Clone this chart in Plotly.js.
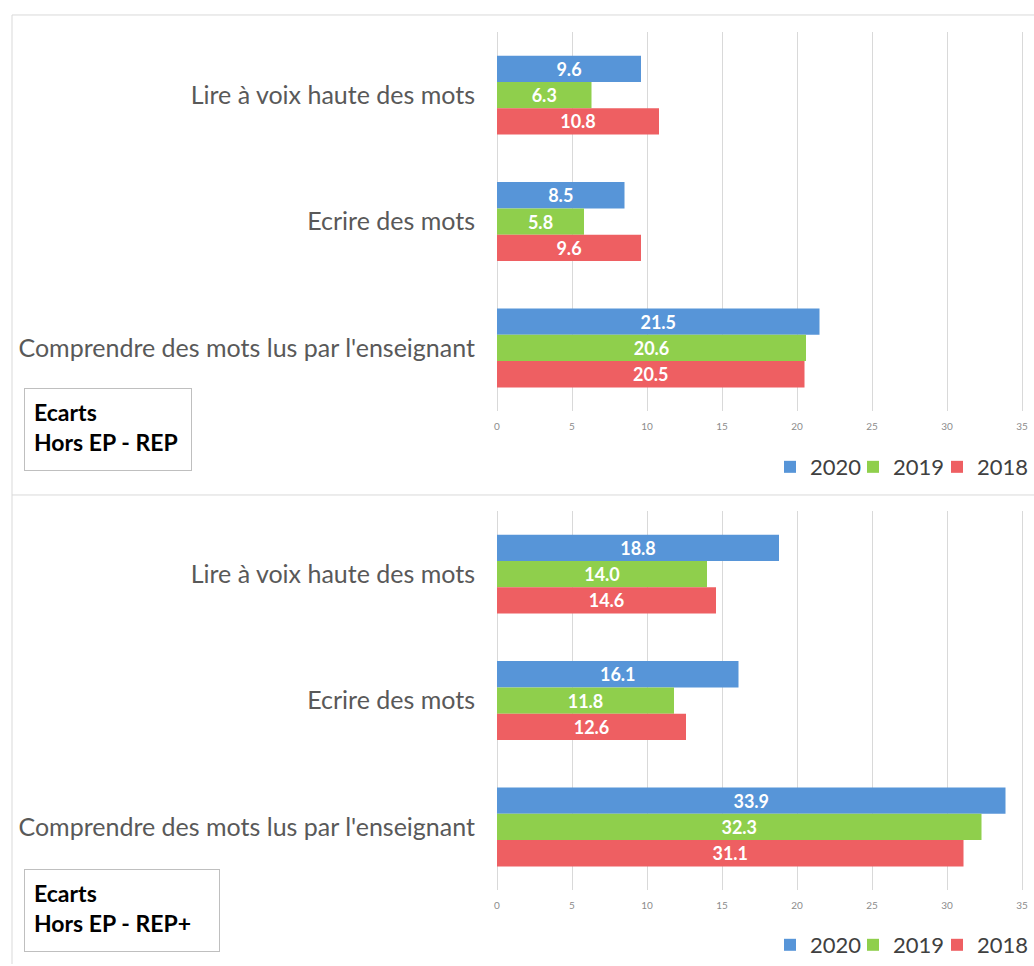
<!DOCTYPE html>
<html>
<head>
<meta charset="utf-8">
<script src="https://cdn.plot.ly/plotly-3.0.1.min.js"></script>
<style>html,body{margin:0;padding:0;background:#fff;}#chart{width:1034px;height:966px;}</style>
</head>
<body>
<div id="chart"></div>
<script>
const categories = ["Lire à voix haute des mots", "Ecrire des mots", "Comprendre des mots lus par l'enseignant"];
const years = ["2020", "2019", "2018"];
const colors = ["#5795D8", "#8FCF4C", "#EE5F62"];

// Panel 1 : Ecarts Hors EP - REP
const rep2020 = [9.6, 8.5, 21.5];
const rep2019 = [6.3, 5.8, 20.6];
const rep2018 = [10.8, 9.6, 20.5];

// Panel 2 : Ecarts Hors EP - REP+
const repPlus2020 = [18.8, 16.1, 33.9];
const repPlus2019 = [14.0, 11.8, 32.3];
const repPlus2018 = [14.6, 12.6, 31.1];

const panelTitles = ["Ecarts<br>Hors EP - REP", "Ecarts<br>Hors EP - REP+"];
const xTicks = [0, 5, 10, 15, 20, 25, 30, 35];

const W = 1034, H = 966;
const px = v => v / W;
const py = v => 1 - v / H;

function legName(n) { return n === 1 ? 'legend' : 'legend' + n; }

function mkTrace(vals, i, xa, ya, leg) {
  return {
    type: 'bar', orientation: 'h',
    y: categories, x: vals, name: years[i],
    xaxis: xa, yaxis: ya, legend: leg,
    marker: {color: colors[i], line: {width: 0}},
    texttemplate: '%{x:.1f}', textposition: 'inside', insidetextanchor: 'middle',
    textfont: {family: 'Lato, sans-serif', size: 18, color: '#ffffff', weight: 'bold'},
    constraintext: 'none',
    hoverinfo: 'skip'
  };
}

const topSeries = [rep2020, rep2019, rep2018];
const botSeries = [repPlus2020, repPlus2019, repPlus2018];
const data = [];
topSeries.forEach((v, i) => data.push(mkTrace(v, i, 'x', 'y', legName(i + 1))));
botSeries.forEach((v, i) => data.push(mkTrace(v, i, 'x2', 'y2', legName(i + 4))));

// 15 px per unit, 0 at x=497
function xaxis(anchor) {
  return {
    anchor: anchor, domain: [px(497), px(497 + 35.07 * 15)], range: [0, 35.07],
    tickvals: xTicks, ticktext: xTicks.map(String),
    showgrid: true, gridcolor: '#d9d9d9', gridwidth: 1,
    zeroline: true, zerolinecolor: '#d9d9d9', zerolinewidth: 1,
    showline: false, ticks: '',
    tickfont: {family: 'Lato, sans-serif', size: 10, color: '#8c8c8c'},
    ticklabelstandoff: 8, fixedrange: true
  };
}
function yaxis(anchor, d) {
  return {
    anchor: anchor, domain: d,
    type: 'category', categoryorder: 'array', categoryarray: categories,
    autorange: 'reversed', showgrid: false, zeroline: false, showline: false, ticks: '',
    tickfont: {family: 'Lato, sans-serif', size: 25, color: '#595959'},
    ticklabelstandoff: 21, fixedrange: true
  };
}

function legend(xl, anchor, yc) {
  return {
    orientation: 'h', x: xl, xanchor: anchor, y: py(yc), yanchor: 'middle',
    font: {family: 'Lato, sans-serif', size: 22, color: '#404040'},
    bgcolor: 'rgba(0,0,0,0)',
    itemclick: false, itemdoubleclick: false
  };
}

function box(txt, x0, y0, w, h) {
  return {
    xref: 'paper', yref: 'paper', x: px(x0), y: py(y0), xanchor: 'left', yanchor: 'top',
    text: txt, showarrow: false, align: 'left', valign: 'top',
    width: w, height: h, borderpad: 9, bordercolor: '#bfbfbf', borderwidth: 1, bgcolor: '#ffffff',
    font: {family: 'Lato, sans-serif', size: 23, color: '#000000', weight: 'bold'}
  };
}

const gray = '#d9d9d9';
const legPos = [[px(770), 'left'], [px(853), 'left'], [1, 'right']];
const layout = {
  width: W, height: H,
  margin: {l: 0, r: 0, t: 0, b: 0},
  paper_bgcolor: '#ffffff', plot_bgcolor: 'rgba(0,0,0,0)',
  barmode: 'group', bargap: 0.376, bargroupgap: 0,
  showlegend: true,
  xaxis: xaxis('y'), yaxis: yaxis('x', [py(412), py(32)]),
  xaxis2: xaxis('y2'), yaxis2: yaxis('x2', [py(892), py(512)]),
  annotations: [
    box(panelTitles[0], 24, 389, 148, 63),
    box(panelTitles[1], 24, 871, 176, 63)
  ],
  shapes: [
    {type: 'line', xref: 'paper', yref: 'paper', x0: px(12), x1: 1, y0: py(15), y1: py(15), line: {color: gray, width: 1}},
    {type: 'line', xref: 'paper', yref: 'paper', x0: px(12), x1: px(12), y0: py(15), y1: 0, line: {color: gray, width: 1}},
    {type: 'line', xref: 'paper', yref: 'paper', x0: px(12), x1: 1, y0: py(496), y1: py(496), line: {color: gray, width: 1}}
  ]
};
legPos.forEach((p, i) => {
  layout[legName(i + 1)] = legend(p[0], p[1], 468);
  layout[legName(i + 4)] = legend(p[0], p[1], 947);
});

Plotly.newPlot('chart', data, layout, {staticPlot: true, displayModeBar: false});
</script>
</body>
</html>
